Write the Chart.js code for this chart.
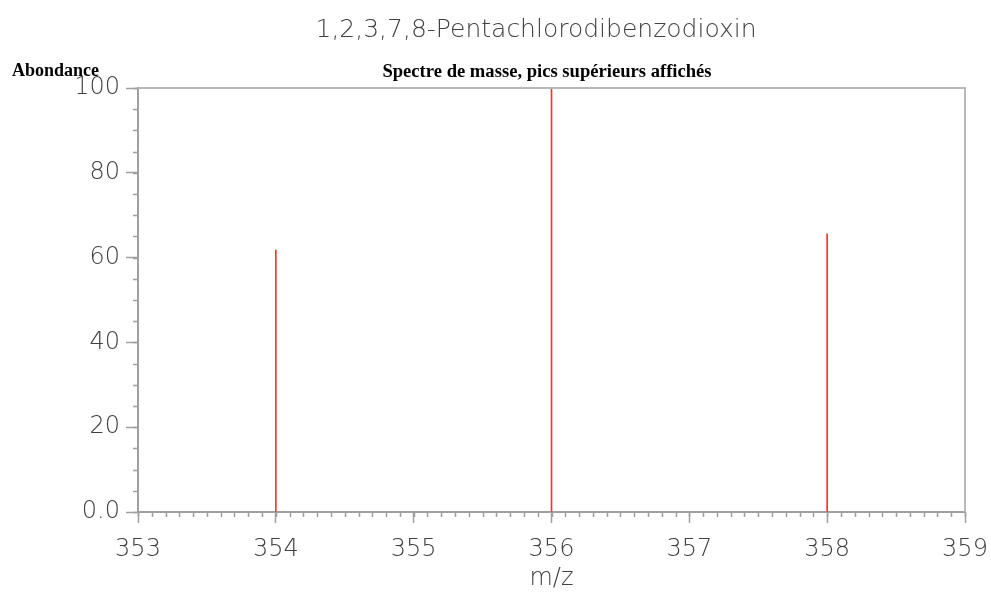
<!DOCTYPE html>
<html>
<head>
<meta charset="utf-8">
<script src="https://cdn.jsdelivr.net/npm/chart.js@4.4.1/dist/chart.umd.min.js"></script>
<style>
  html, body { margin: 0; padding: 0; background: #fff; }
  #wrap { width: 991px; height: 592px; position: relative; }
</style>
</head>
<body>
<div id="wrap"><canvas id="spectrum"></canvas></div>
<script>
// Chart data
const chartTitle = '1,2,3,7,8-Pentachlorodibenzodioxin';
const chartSubtitle = 'Spectre de masse, pics supérieurs affichés';
const yAxisTitle = 'Abondance';
const xAxisTitle = 'm/z';

const mzValues = [354, 356, 358];
const abundances = [61.8, 100, 65.6];

const xTickValues = [353, 354, 355, 356, 357, 358, 359];
const yTickValues = [0, 20, 40, 60, 80, 100];
const xMinorStep = 0.1;
const yMinorStep = 5;

const axisColor = '#a0a0a0';
const textColor = '#404040';
const tickFont = { family: 'DejaVu Sans', size: 24, weight: 200 };

// draws the minor ticks, frame and the texts around the plot
const decorPlugin = {
    id: 'decor',
    afterDraw(chart) {
        const ctx = chart.ctx;
        const area = chart.chartArea;
        const xs = chart.scales.x;
        const ys = chart.scales.y;
        ctx.save();

        // top and right frame
        ctx.strokeStyle = '#b8b8b8';
        ctx.lineWidth = 2;
        ctx.beginPath();
        ctx.moveTo(area.left, area.top);
        ctx.lineTo(area.right, area.top);
        ctx.lineTo(area.right, area.bottom);
        ctx.stroke();

        // minor ticks
        ctx.strokeStyle = axisColor;
        ctx.lineWidth = 1.5;
        ctx.beginPath();
        for (let v = xs.min; v <= xs.max + 1e-9; v += xMinorStep) {
            const px = Math.round(xs.getPixelForValue(v)) + 0.5;
            ctx.moveTo(px, area.bottom);
            ctx.lineTo(px, area.bottom + 5);
        }
        for (let v = ys.min; v <= ys.max + 1e-9; v += yMinorStep) {
            const py = Math.round(ys.getPixelForValue(v)) + 0.5;
            ctx.moveTo(area.left, py);
            ctx.lineTo(area.left - 5, py);
        }
        ctx.stroke();

        // texts
        ctx.fillStyle = textColor;
        ctx.font = '200 25px "DejaVu Sans"';
        ctx.textAlign = 'center';
        ctx.textBaseline = 'alphabetic';
        ctx.fillText(chartTitle, 536, 37);
        ctx.font = '200 24px "DejaVu Sans"';
        ctx.fillText(xAxisTitle, (area.left + area.right) / 2, 585);

        ctx.fillStyle = '#000';
        ctx.font = 'bold 18.6px "Liberation Serif"';
        ctx.fillText(chartSubtitle, 547, 77);
        ctx.textAlign = 'left';
        ctx.font = 'bold 18px "Liberation Serif"';
        ctx.fillText(yAxisTitle, 12, 76);
        ctx.restore();
    }
};

const spectrumChart = new Chart(document.getElementById('spectrum'), {
    type: 'bar',
    data: {
        datasets: [{
            data: mzValues.map((m, i) => ({ x: m, y: abundances[i] })),
            backgroundColor: '#ff3030',
            borderWidth: 0,
            barThickness: 1
        }]
    },
    options: {
        responsive: true,
        maintainAspectRatio: false,
        animation: false,
        layout: { padding: { top: 88, right: 26, left: 0, bottom: 0 } },
        plugins: {
            legend: { display: false },
            tooltip: { enabled: false }
        },
        scales: {
            x: {
                type: 'linear',
                min: 353,
                max: 359,
                offset: false,
                afterBuildTicks: (scale) => { scale.ticks = xTickValues.map(v => ({ value: v })); },
                afterFit: (scale) => { scale.height = 80; scale.paddingLeft = 0; scale.paddingRight = 0; },
                grid: { offset: false, drawOnChartArea: false, tickLength: 11, tickColor: axisColor, tickWidth: 1.5 },
                border: { color: axisColor, width: 2 },
                ticks: { color: textColor, font: tickFont, padding: 12, maxRotation: 0 }
            },
            y: {
                min: 0,
                max: 100,
                afterBuildTicks: (scale) => { scale.ticks = yTickValues.map(v => ({ value: v })); },
                afterFit: (scale) => { scale.width = 138; scale.paddingTop = 0; scale.paddingBottom = 0; },
                grid: { drawOnChartArea: false, tickLength: 12, tickColor: axisColor, tickWidth: 1.5 },
                border: { color: axisColor, width: 2 },
                ticks: {
                    color: textColor, font: tickFont, padding: 6,
                    callback: (v) => v === 0 ? '0.0' : String(v)
                }
            }
        }
    },
    plugins: [decorPlugin]
});
</script>
</body>
</html>
